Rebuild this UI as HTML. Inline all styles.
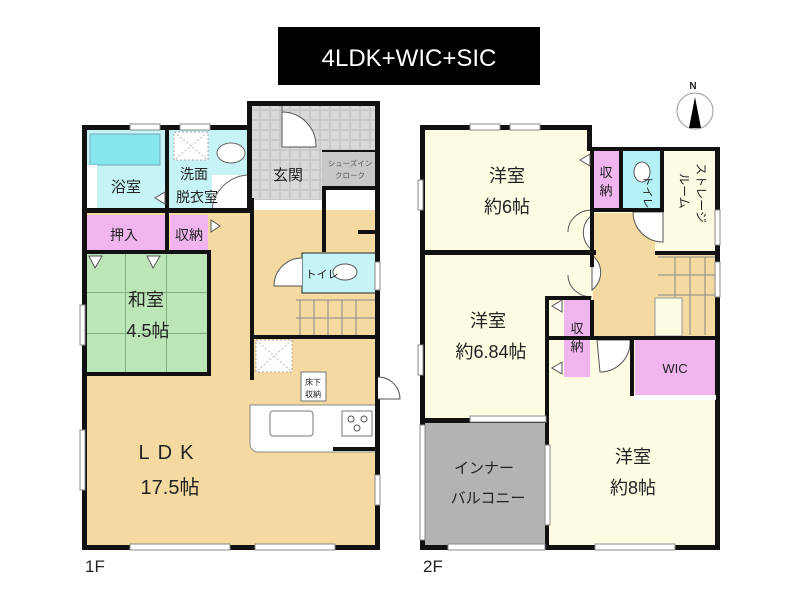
<!DOCTYPE html>
<html><head><meta charset="utf-8"><style>
html,body{margin:0;padding:0;background:#fff;width:800px;height:600px;overflow:hidden}
svg text{font-family:"Liberation Sans","Noto Sans CJK JP",sans-serif;fill:#222}
</style></head><body>
<svg width="800" height="600" viewBox="0 0 800 600" xmlns="http://www.w3.org/2000/svg">
<defs>
<pattern id="tile" width="10" height="10" patternUnits="userSpaceOnUse"><rect width="10" height="10" fill="#c9c9c9"/><rect x="1" y="1" width="8" height="8" fill="#d9d9d9"/></pattern>
<pattern id="tat" width="41" height="41" patternUnits="userSpaceOnUse" x="85" y="252"><rect width="41" height="41" fill="#bde6b8"/><path d="M40.5 0V41M0 40.5H41" stroke="#7fb07f" stroke-width="1"/></pattern>
</defs>
<!-- title -->
<rect x="278" y="27" width="262" height="58" fill="#000"/>
<text x="409" y="66" font-size="24" text-anchor="middle" style="fill:#fff">4LDK+WIC+SIC</text>
<!-- compass -->
<text x="693" y="89" font-size="10" font-weight="bold" text-anchor="middle">N</text>
<circle cx="695" cy="111" r="18" fill="none" stroke="#999" stroke-width="1"/>
<polygon points="695,97 689,128 701,128" fill="#000"/>

<!-- ===== 1F ===== -->
<rect x="85" y="210" width="293" height="337" fill="#f4daa0"/>
<rect x="85" y="128" width="82" height="82" fill="#c6f4f6"/>
<rect x="90" y="134" width="70" height="31" fill="#86e6ee" stroke="#7ab" stroke-width="1"/>
<rect x="85" y="165" width="12" height="45" fill="#fff"/>
<rect x="167" y="128" width="83" height="82" fill="#c6f4f6"/>
<rect x="174" y="132" width="34" height="28" fill="#fff" stroke="#aaa" stroke-dasharray="2,2"/>
<path d="M174 132L208 160M208 132L174 160" stroke="#bbb" stroke-dasharray="2,2"/>
<ellipse cx="231" cy="153" rx="14" ry="10" fill="#fff" stroke="#666"/>
<rect x="212" y="175" width="38" height="35" fill="#fff"/>
<path d="M250 175A38 38 0 0 0 212 210" fill="none" stroke="#666"/>
<rect x="250" y="104" width="128" height="46" fill="url(#tile)"/>
<rect x="250" y="150" width="72" height="50" fill="url(#tile)"/>
<rect x="322" y="150" width="56" height="38" fill="#c8c8c8"/>
<path d="M282 104V147H316A34 34 0 0 0 282 112" fill="#fff" stroke="#555"/>
<rect x="85" y="215" width="80" height="38" fill="#f0b4ee"/>
<rect x="170" y="215" width="38" height="38" fill="#f0b4ee"/>
<rect x="85" y="253" width="123" height="122" fill="url(#tat)"/>
<polygon points="89,256 102,256 95,268" fill="#fff" stroke="#555"/>
<polygon points="147,256 160,256 153,268" fill="#fff" stroke="#555"/>
<rect x="302" y="253" width="74" height="40" fill="#c6f4f6" stroke="#222"/>
<path d="M302 258A28 28 0 0 0 274 286H302" fill="#fff" stroke="#555"/>
<ellipse cx="345" cy="272" rx="12" ry="8" fill="#fff" stroke="#555"/>
<rect x="292" y="296" width="86" height="40" fill="#f4daa0"/>
<path d="M296 300H376M300 300V336M314 300V336M328 300V336M342 300V336M356 300V336M296 318H376" stroke="#888" stroke-width="1" fill="none"/>
<rect x="256" y="340" width="36" height="32" fill="#fff" stroke="#aaa" stroke-dasharray="2,2"/>
<path d="M256 340L292 372M292 340L256 372" stroke="#bbb" stroke-dasharray="2,2"/>
<rect x="301" y="372" width="25" height="29" fill="#fff" stroke="#777"/>
<text x="313" y="385" font-size="8" text-anchor="middle">床下</text>
<text x="313" y="397" font-size="8" text-anchor="middle">収納</text>
<path d="M250 405H376V452H258A8 8 0 0 1 250 444Z" fill="#fff" stroke="#888"/>
<rect x="270" y="411" width="43" height="25" rx="3" fill="#fff" stroke="#777"/>
<rect x="342" y="411" width="30" height="25" fill="#fff" stroke="#777"/>
<circle cx="351" cy="419" r="3" fill="none" stroke="#555"/><circle cx="364" cy="419" r="3" fill="none" stroke="#555"/><circle cx="357" cy="428" r="3" fill="none" stroke="#555"/>
<!-- 1F walls -->
<g fill="#111">
<rect x="82" y="125" width="5" height="425"/>
<rect x="82" y="545" width="298" height="5"/>
<rect x="375" y="104" width="5" height="446"/>
<rect x="247" y="101" width="133" height="5"/>
<rect x="82" y="125" width="168" height="5"/>
<rect x="247" y="101" width="5" height="110"/>
<rect x="82" y="208" width="170" height="5"/>
<rect x="165" y="128" width="4" height="125"/>
<rect x="82" y="250" width="128" height="4"/>
<rect x="207" y="250" width="4" height="125"/>
<rect x="82" y="372" width="129" height="4"/>
<rect x="250" y="198" width="4" height="138"/>
<rect x="322" y="186" width="4" height="66"/>
<rect x="322" y="186" width="56" height="4"/>
<rect x="358" y="230" width="20" height="4"/>
<rect x="322" y="150" width="56" height="2"/>
<rect x="252" y="335" width="126" height="4"/>
<rect x="250" y="335" width="4" height="45"/>
<rect x="333" y="447" width="45" height="4"/>
</g>
<g fill="#fff" stroke="#888" stroke-width="1">
<rect x="130" y="124" width="30" height="6"/><rect x="180" y="124" width="30" height="6"/>
<rect x="80" y="305" width="5" height="40"/><rect x="80" y="430" width="5" height="60"/>
<rect x="130" y="544" width="100" height="6"/><rect x="255" y="544" width="80" height="6"/>
<rect x="375" y="475" width="5" height="30"/><rect x="375" y="262" width="5" height="28"/>
</g>
<path d="M378 377A22 22 0 0 1 400 399H378" fill="#fff" stroke="#555"/>
<polygon points="165,192 155,198 165,204" fill="#fff" stroke="#555"/>
<polygon points="211,220 220,226 211,232" fill="#fff" stroke="#555"/>
<text x="126" y="192" font-size="15" text-anchor="middle">浴室</text>
<text x="194" y="179" font-size="14" text-anchor="middle">洗面</text>
<text x="197" y="202" font-size="14" text-anchor="middle">脱衣室</text>
<text x="288" y="180" font-size="15" text-anchor="middle">玄関</text>
<text x="350" y="166" font-size="7.5" text-anchor="middle" style="fill:#555">シューズイン</text>
<text x="350" y="178" font-size="7.5" text-anchor="middle" style="fill:#555">クローク</text>
<text x="124" y="240" font-size="14" text-anchor="middle">押入</text>
<text x="189" y="240" font-size="14" text-anchor="middle">収納</text>
<text x="322" y="278" font-size="11" text-anchor="middle">トイレ</text>
<text x="146" y="306" font-size="18" text-anchor="middle">和室</text>
<text x="148" y="337" font-size="18" text-anchor="middle">4.5帖</text>
<text x="170" y="459" font-size="20" text-anchor="middle" letter-spacing="8">LDK</text>
<text x="170" y="494" font-size="20" text-anchor="middle">17.5帖</text>
<text x="85" y="572" font-size="17">1F</text>

<!-- ===== 2F ===== -->
<rect x="423" y="128" width="167" height="22" fill="#fdfbe2"/>
<rect x="423" y="150" width="294" height="398" fill="#fdfbe2"/>
<rect x="593" y="213" width="62" height="124" fill="#f4daa0"/>
<rect x="655" y="253" width="62" height="84" fill="#f4daa0"/>
<path d="M658 257H715M658 275H715M658 295H715M675 257V335M690 257V335M705 257V335" stroke="#888" fill="none"/>
<rect x="655" y="298" width="27" height="38" fill="#fdfbe2" stroke="#999"/>
<rect x="593" y="150" width="26" height="60" fill="#f0b4ee"/>
<rect x="623" y="150" width="40" height="60" fill="#b5f2f7"/>
<ellipse cx="642" cy="172" rx="8" ry="10" fill="#fff" stroke="#555"/>
<rect x="564" y="297" width="26" height="80" fill="#f0b4ee"/>
<rect x="635" y="340" width="82" height="55" fill="#f0b4ee"/>
<rect x="424" y="423" width="124" height="125" fill="#b3b3b3"/>
<path d="M592 215A22 22 0 0 0 592 250Z" fill="#fff" stroke="#555"/>
<path d="M592 255A22 22 0 0 1 592 290Z" fill="#fff" stroke="#555"/>
<path d="M568 232A24 22 0 0 1 592 210" fill="none" stroke="#555"/>
<path d="M568 275A24 22 0 0 0 592 297" fill="none" stroke="#555"/>
<path d="M597 340H630A30 30 0 0 1 600 372Z" fill="#fff" stroke="#555"/>
<path d="M633 212A30 30 0 0 0 663 242V212Z" fill="#fff" stroke="#555"/>
<g fill="#111">
<rect x="420" y="125" width="5" height="425"/>
<rect x="420" y="125" width="172" height="5"/>
<rect x="587" y="125" width="5" height="25"/>
<rect x="587" y="147" width="133" height="4"/>
<rect x="715" y="147" width="5" height="403"/>
<rect x="420" y="545" width="128" height="5"/>
<rect x="545" y="545" width="175" height="5"/>
<rect x="420" y="250" width="176" height="5"/>
<rect x="590" y="147" width="4" height="120"/>
<rect x="619" y="147" width="4" height="65"/>
<rect x="660" y="147" width="4" height="65"/>
<rect x="590" y="208" width="74" height="4"/>
<rect x="655" y="251" width="65" height="4"/>
<rect x="545" y="296" width="4" height="84"/>
<rect x="545" y="296" width="46" height="4"/>
<rect x="545" y="377" width="4" height="173"/>
<rect x="420" y="418" width="128" height="5"/>
<rect x="590" y="300" width="4" height="40"/>
<rect x="549" y="336" width="171" height="4"/>
<rect x="630" y="336" width="4" height="60"/>
</g>
<g fill="#fff" stroke="#888" stroke-width="1">
<rect x="470" y="124" width="30" height="6"/><rect x="510" y="124" width="30" height="6"/>
<rect x="418" y="180" width="5" height="30"/><rect x="418" y="345" width="5" height="30"/>
<rect x="715" y="210" width="5" height="35"/><rect x="715" y="262" width="5" height="35"/>
<rect x="470" y="416" width="76" height="6"/><rect x="545" y="445" width="5" height="80"/>
<rect x="595" y="544" width="80" height="6"/><rect x="448" y="544" width="97" height="6"/>
<rect x="420" y="425" width="5" height="115"/>
</g>
<rect x="634" y="395" width="82" height="5" fill="#fff"/>
<polygon points="590,154 580,160 590,166" fill="#fff" stroke="#555"/>
<polygon points="562,300 552,306 562,312" fill="#fff" stroke="#555"/>
<polygon points="562,362 552,368 562,374" fill="#fff" stroke="#555"/>
<text x="507" y="182" font-size="18" text-anchor="middle">洋室</text>
<text x="507" y="213" font-size="18" text-anchor="middle">約6帖</text>
<text x="606" y="177" font-size="13" text-anchor="middle">収</text>
<text x="606" y="195" font-size="13" text-anchor="middle">納</text>
<text x="648" y="196" font-size="11" text-anchor="middle" transform="rotate(90 648 192)">トイレ</text>
<text x="701" y="197" font-size="12" text-anchor="middle" transform="rotate(90 701 193)">ストレージ</text>
<text x="684" y="195" font-size="12" text-anchor="middle" transform="rotate(90 684 191)">ルーム</text>
<text x="488" y="327" font-size="18" text-anchor="middle">洋室</text>
<text x="491" y="358" font-size="18" text-anchor="middle">約6.84帖</text>
<text x="577" y="333" font-size="13" text-anchor="middle">収</text>
<text x="577" y="351" font-size="13" text-anchor="middle">納</text>
<text x="675" y="373" font-size="13" text-anchor="middle">WIC</text>
<text x="633" y="463" font-size="18" text-anchor="middle">洋室</text>
<text x="633" y="494" font-size="18" text-anchor="middle">約8帖</text>
<text x="484" y="473" font-size="15" text-anchor="middle">インナー</text>
<text x="488" y="503" font-size="15" text-anchor="middle">バルコニー</text>
<text x="423" y="572" font-size="17">2F</text>
</svg>
</body></html>
